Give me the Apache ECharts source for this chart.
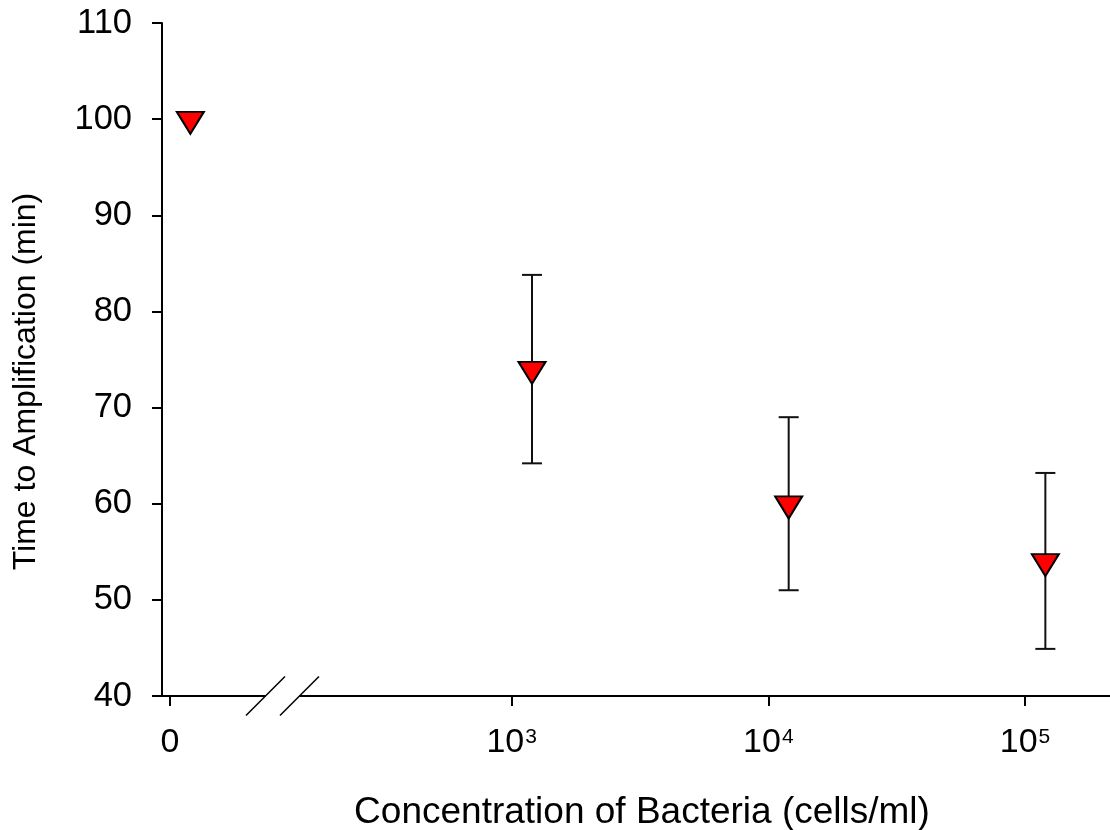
<!DOCTYPE html>
<html>
<head>
<meta charset="utf-8">
<script src="https://cdn.jsdelivr.net/npm/echarts@6/dist/echarts.min.js"></script>
<style>
html,body{margin:0;padding:0;background:#fff;}
#chart{width:1110px;height:830px;}
</style>
</head>
<body>
<div id="chart"></div>
<script>
// ---- data ----
const concentration = [0, 1200, 12000, 120000];      // cells/ml
const meanTime      = [100, 74, 60, 54];             // min
const errLow        = [null, 64.2, 51, 44.9];
const errHigh       = [null, 83.8, 69, 63.2];
const xTickPos      = [1.669, 3, 4, 5];              // log10 positions (first = broken-axis "0")
const xTickLabels   = ['0', '10^3', '10^4', '10^5'];
const yTicks        = [40, 50, 60, 70, 80, 90, 100, 110];

const ZERO_POS = xTickPos[0];
const JITTER = Math.log10(1.2);
function xPos(c) { return c === 0 ? ZERO_POS + JITTER : Math.log10(c); }

const FONT = '"Liberation Sans", Arial, Helvetica, sans-serif';
const chart = echarts.init(document.getElementById('chart'), null, {renderer: 'canvas'});

const scatterData = concentration.map((c, i) => [xPos(c), meanTime[i]]);
const errData = concentration.map((c, i) => [xPos(c), errLow[i], errHigh[i]]).filter(d => d[1] != null);

const labelMap = {};
xTickPos.forEach((p, i) => { labelMap[p.toFixed(3)] = xTickLabels[i]; });

const option = {
  animation: false,
  backgroundColor: '#fff',
  grid: {left: 162, right: 0, top: 23, bottom: 134, containLabel: false, outerBoundsMode: 'none'},
  xAxis: {
    type: 'value',
    min: 1.6377,
    max: 5.331,
    name: 'Concentration of Bacteria (cells/ml)',
    nameLocation: 'middle',
    nameGap: 98,
    nameTextStyle: {fontFamily: FONT, fontSize: 37, color: '#000', padding: [0, 0, 0, 12]},
    splitLine: {show: false},
    axisLine: {show: true, lineStyle: {color: '#000', width: 2}},
    axisTick: {show: true, inside: false, length: 10, lineStyle: {color: '#000', width: 2}, customValues: xTickPos},
    axisLabel: {
      customValues: xTickPos,
      margin: 30,
      color: '#000',
      fontFamily: FONT,
      fontSize: 34,
      formatter: function (v) {
        const s = labelMap[Number(v).toFixed(3)] || '';
        if (s.indexOf('^') >= 0) {
          const parts = s.split('^');
          return '{n|' + parts[0] + '}{s|' + parts[1] + '}';
        }
        return '{n|' + s + '}';
      },
      rich: {
        n: {fontFamily: FONT, fontSize: 34, color: '#000'},
        s: {fontFamily: FONT, fontSize: 21, color: '#000', padding: [0, 0, 12, 1]}
      }
    }
  },
  yAxis: {
    type: 'value',
    min: yTicks[0],
    max: yTicks[yTicks.length - 1],
    interval: 10,
    name: 'Time to Amplification (min)',
    nameLocation: 'middle',
    nameGap: 120,
    nameTextStyle: {fontFamily: FONT, fontSize: 32, color: '#000', padding: [0, 44, 0, 0]},
    splitLine: {show: false},
    axisLine: {show: true, lineStyle: {color: '#000', width: 2}},
    axisTick: {show: true, inside: false, length: 10, lineStyle: {color: '#000', width: 2}},
    axisLabel: {margin: 30, color: '#000', fontFamily: FONT, fontSize: 34.5}
  },
  series: [
    {
      type: 'custom',
      z: 2,
      data: errData,
      renderItem: function (params, api) {
        const x = api.value(0);
        const top = api.coord([x, api.value(2)]);
        const bot = api.coord([x, api.value(1)]);
        const cap = 10;
        const style = {stroke: '#111', lineWidth: 2, fill: null};
        return {
          type: 'group',
          children: [
            {type: 'line', shape: {x1: top[0], y1: top[1], x2: bot[0], y2: bot[1]}, style: style},
            {type: 'line', shape: {x1: top[0] - cap, y1: top[1], x2: top[0] + cap, y2: top[1]}, style: style},
            {type: 'line', shape: {x1: bot[0] - cap, y1: bot[1], x2: bot[0] + cap, y2: bot[1]}, style: style}
          ]
        };
      }
    },
    {
      type: 'scatter',
      z: 5,
      data: scatterData,
      symbol: 'path://M0,0L2,0L1,1.63Z',
      symbolSize: [27, 22],
      symbolKeepAspect: false,
      symbolOffset: [0, 3.7],
      itemStyle: {color: '#ff0000', borderColor: '#000', borderWidth: 2, opacity: 1}
    }
  ]
};
chart.setOption(option);

// axis break marks
const BREAK_AT = 2.107;
const bc = chart.convertToPixel({gridIndex: 0}, [BREAK_AT, yTicks[0]]);
const gap = 17, h = 19.5;
chart.setOption({
  graphic: [
    {type: 'rect', shape: {x: bc[0] - gap, y: bc[1] - 3, width: gap * 2, height: 6}, style: {fill: '#fff'}, z: 100},
    {type: 'line', shape: {x1: bc[0] - gap - h, y1: bc[1] + h, x2: bc[0] - gap + h, y2: bc[1] - h}, style: {stroke: '#000', lineWidth: 1.5}, z: 101},
    {type: 'line', shape: {x1: bc[0] + gap - h, y1: bc[1] + h, x2: bc[0] + gap + h, y2: bc[1] - h}, style: {stroke: '#000', lineWidth: 1.5}, z: 101}
  ]
});
</script>
</body>
</html>
